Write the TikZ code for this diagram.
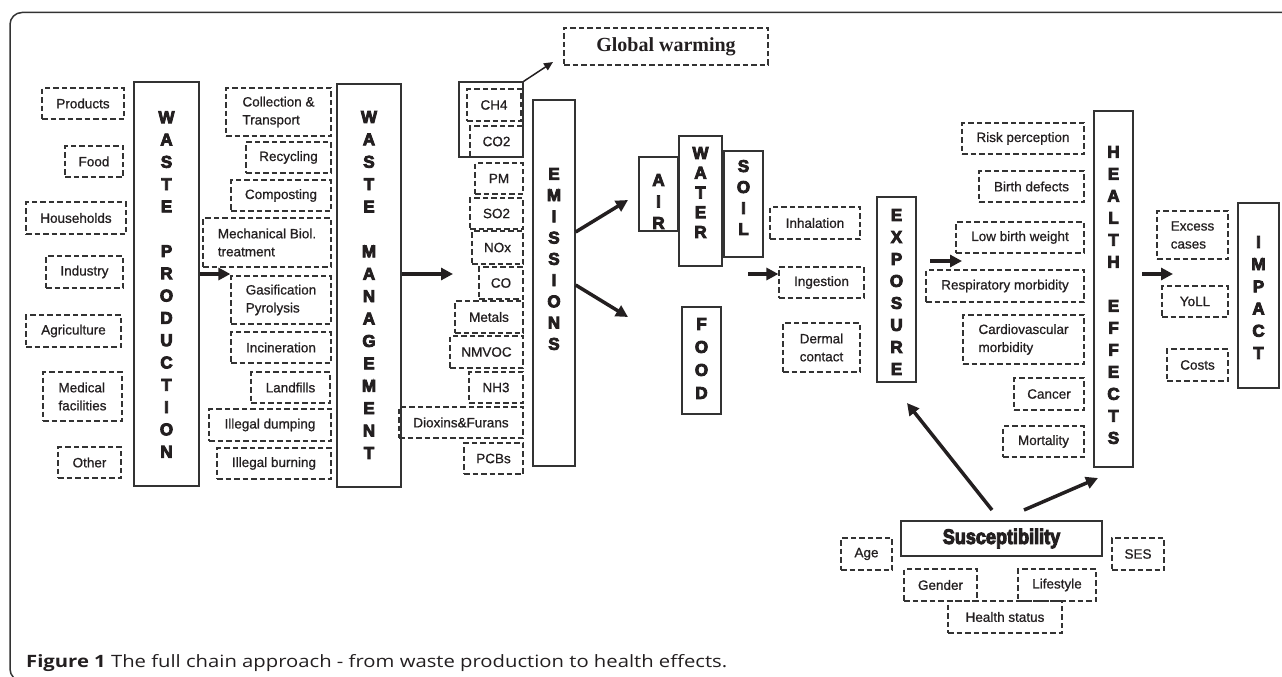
\documentclass[tikz,border=0pt]{standalone}
\usepackage{graphicx}
\usepackage{fontspec}
\setmainfont{Liberation Sans}
\newfontfamily\boxfont{Liberation Sans}[FakeBold=0.8]
\newfontfamily\heavyfont{Liberation Sans Bold}[FakeBold=5]
\newfontfamily\gwfont{Liberation Serif Bold}
\newfontfamily\capfont{Open Sans}
\usetikzlibrary{arrows.meta}
\definecolor{ink}{HTML}{231F20}
\definecolor{edge}{HTML}{333333}
\tikzset{
  dbox/.style={draw=edge, line width=1.2pt, dash pattern=on 5.5pt off 3pt, inner sep=0pt,
    align=left, text=ink, font=\boxfont\fontsize{13.5}{18}\selectfont},
  sbox/.style={draw=edge, line width=1.3pt, inner sep=0pt},
  stack/.style={align=center, text=ink, inner sep=0pt, font=\heavyfont\fontsize{17}{#1}\selectfont},
  bigarrow/.style={draw=ink, line width=3.5pt, -{Triangle[length=12pt,width=12pt]}},
  thinarrow/.style={draw=ink, line width=1.5pt, -{Triangle[length=9pt,width=8pt]}},
}
\newcommand{\dbx}[6]{\node[dbox, minimum width={(#4-#2)*1pt}, minimum height={(#5-#3)*1pt}] (#1) at ({(#2+#4)/2},{(#3+#5)/2}) {#6};}
\newcommand{\sbx}[5]{\node[sbox, minimum width={(#4-#2)*1pt}, minimum height={(#5-#3)*1pt}] (#1) at ({(#2+#4)/2},{(#3+#5)/2}) {};}
\begin{document}
\begin{tikzpicture}[x=1pt,y=-1pt]
\useasboundingbox (0,0) rectangle (1282,677);
\clip (0,0) rectangle (1282,677);
% frame
\draw[edge, line width=1.5pt, rounded corners=12pt] (1300,12.5) -- (10,12.5) -- (10,681) -- (1300,681);

% waste production sources
\dbx{prod}{42}{88}{124}{119}{Products}
\dbx{food}{65}{146}{123}{177}{Food}
\dbx{house}{26}{202}{126}{234}{Households}
\dbx{indus}{46}{256}{123}{288}{Industry}
\dbx{agri}{26}{315}{121}{347}{Agriculture}
\dbx{med}{43}{372}{122}{421}{Medical\\facilities}
\dbx{other}{58}{447}{121}{478}{Other}
\sbx{wp}{134}{82}{199}{486}
\node[stack=22.3] (wpT) at (166.5,284.5) {W\\A\\S\\T\\E\\\mbox{}\\P\\R\\O\\D\\U\\C\\T\\I\\O\\N};

% waste management options
\dbx{coll}{226}{88}{331}{136}{Collection \&\\Transport}
\dbx{recy}{246}{142}{331}{173}{Recycling}
\dbx{comp}{231}{180}{331}{211}{Composting}
\dbx{mbt}{203}{218}{331}{267}{Mechanical Biol.\\treatment}
\dbx{gas}{231}{276}{331}{324}{Gasification\\Pyrolysis}
\dbx{inc}{231}{332}{331}{363}{Incineration}
\dbx{landf}{251}{372}{330}{403}{Landfills}
\dbx{dump}{209}{409}{331}{441}{Illegal dumping}
\dbx{burn}{217}{448}{331}{479}{Illegal burning}
\sbx{wm}{337}{84}{401}{487}
\node[stack=22.4] (wmT) at (369,285) {W\\A\\S\\T\\E\\\mbox{}\\M\\A\\N\\A\\G\\E\\M\\E\\N\\T};

% emissions
\sbx{ghg}{459}{82}{523}{157}
\dbx{ch4}{467}{89}{521}{121}{CH4}
\dbx{co2}{470}{126}{523}{157}{CO2}
\dbx{pm}{475}{163}{523}{194}{PM}
\dbx{so2}{470}{198}{523}{229}{SO2}
\dbx{nox}{472}{231}{523}{264}{NOx}
\dbx{co}{479}{267}{523}{299}{CO}
\dbx{metals}{455}{301}{523}{333}{Metals}
\dbx{nmvoc}{450}{336}{523}{368}{NMVOC}
\dbx{nh3}{469}{372}{523}{403}{NH3}
\dbx{diox}{399}{407}{523}{438}{Dioxins\&Furans}
\dbx{pcb}{464}{443}{523}{474}{PCBs}
\sbx{em}{533}{100}{575}{466}
\node[stack=21.25] (emT) at (554,259) {E\\M\\I\\S\\S\\I\\O\\N\\S};
\node[dbox, minimum width=204pt, minimum height=37pt, font=\gwfont\fontsize{20}{24}\selectfont] (gw) at (666,46.5) {Global warming};

% media
\sbx{air}{639}{157}{678}{231}
\node[stack=21.5] (airT) at (658.5,201.5) {A\\I\\R};
\sbx{water}{679}{136}{722}{266}
\node[stack=19.75] (waterT) at (700.5,192.5) {W\\A\\T\\E\\R};
\sbx{soil}{724}{151}{763}{257}
\node[stack=21] (soilT) at (743.5,197.5) {S\\O\\I\\L};
\sbx{fd}{682}{307}{721}{414}
\node[stack=23] (fdT) at (701.5,358.5) {F\\O\\O\\D};

% exposure
\dbx{inh}{770}{207}{860}{239}{Inhalation}
\dbx{ing}{779}{267}{864}{298}{Ingestion}
\dbx{derm}{783}{323}{860}{372}{Dermal\\contact}
\sbx{ex}{877}{197}{916}{382}
\node[stack=22] (exT) at (896.5,292) {E\\X\\P\\O\\S\\U\\R\\E};

% health effects
\dbx{risk}{962}{123}{1084}{154}{Risk perception}
\dbx{birth}{979}{171}{1084}{202}{Birth defects}
\dbx{lbw}{956}{222}{1084}{253}{Low birth weight}
\dbx{resp}{926}{270}{1084}{302}{Respiratory morbidity}
\dbx{cardio}{963}{315}{1084}{364}{Cardiovascular\\morbidity}
\dbx{cancer}{1014}{378}{1084}{410}{Cancer}
\dbx{mort}{1003}{426}{1084}{457}{Mortality}
\sbx{he}{1094}{111}{1133}{467}
\node[stack=22] (heT) at (1113.5,295) {H\\E\\A\\L\\T\\H\\\mbox{}\\E\\F\\F\\E\\C\\T\\S};

% impact
\dbx{excess}{1157}{211}{1228}{259}{Excess\\cases}
\dbx{yoll}{1162}{286}{1228}{317}{YoLL}
\dbx{costs}{1167}{349}{1228}{381}{Costs}
\sbx{imp}{1238}{203}{1279}{388}
\node[stack=22.2] (impT) at (1258.5,297.5) {I\\M\\P\\A\\C\\T};

% susceptibility
\node[sbox, minimum width=201pt, minimum height=35pt, text=ink, font=\heavyfont\fontsize{21}{24}\selectfont] (sus) at (1001.5,538.5) {\scalebox{0.86}[1]{Susceptibility}};
\dbx{age}{841}{538}{892}{570}{Age}
\dbx{ses}{1112}{538}{1164}{570}{SES}
\dbx{gender}{904}{569}{977}{601}{Gender}
\dbx{life}{1018}{569}{1096}{601}{Lifestyle}
\dbx{hstat}{948}{601}{1062}{633}{Health status}

% connector helper coordinates
\coordinate (y274) at (0,274);
\coordinate (y232) at (0,232);
\coordinate (y285) at (0,285);
\coordinate (wmEnd) at (453,274);
\coordinate (emUp) at (628,200);
\coordinate (emDown) at (628,317);
\coordinate (ingStart) at (748,274);
\coordinate (exStart) at (930,261);
\coordinate (exEnd) at (962,261);
\coordinate (heStart) at (1142,274);
\coordinate (heEnd) at (1173,274);
\coordinate (susA) at (992,510);
\coordinate (exTip) at (907,403);
\coordinate (susB) at (1024,510);
\coordinate (heTip) at (1098,478);
\coordinate (gwTip) at (553,62);

% connectors
\draw[bigarrow] (wp.east |- y274) -- (gas.west |- y274);
\draw[bigarrow] (wm.east |- y274) -- (wmEnd);
\draw[bigarrow] (em.east |- y232) -- (emUp);
\draw[bigarrow] (em.east |- y285) -- (emDown);
\draw[bigarrow] (ingStart) -- (ing.west |- y274);
\draw[bigarrow] (exStart) -- (exEnd);
\draw[bigarrow] (heStart) -- (heEnd);
\draw[bigarrow] (susA) -- (exTip);
\draw[bigarrow] (susB) -- (heTip);
\draw[thinarrow] (ghg.north east) -- (gwTip);

% caption
\node[anchor=base west, inner sep=0pt, text=ink, font=\capfont\fontsize{17}{20}\selectfont] (cap) at (26,667)
  {\resizebox{701pt}{\height}{\textbf{Figure 1} The full chain approach - from waste production to health effects.}};
\end{tikzpicture}
\end{document}
